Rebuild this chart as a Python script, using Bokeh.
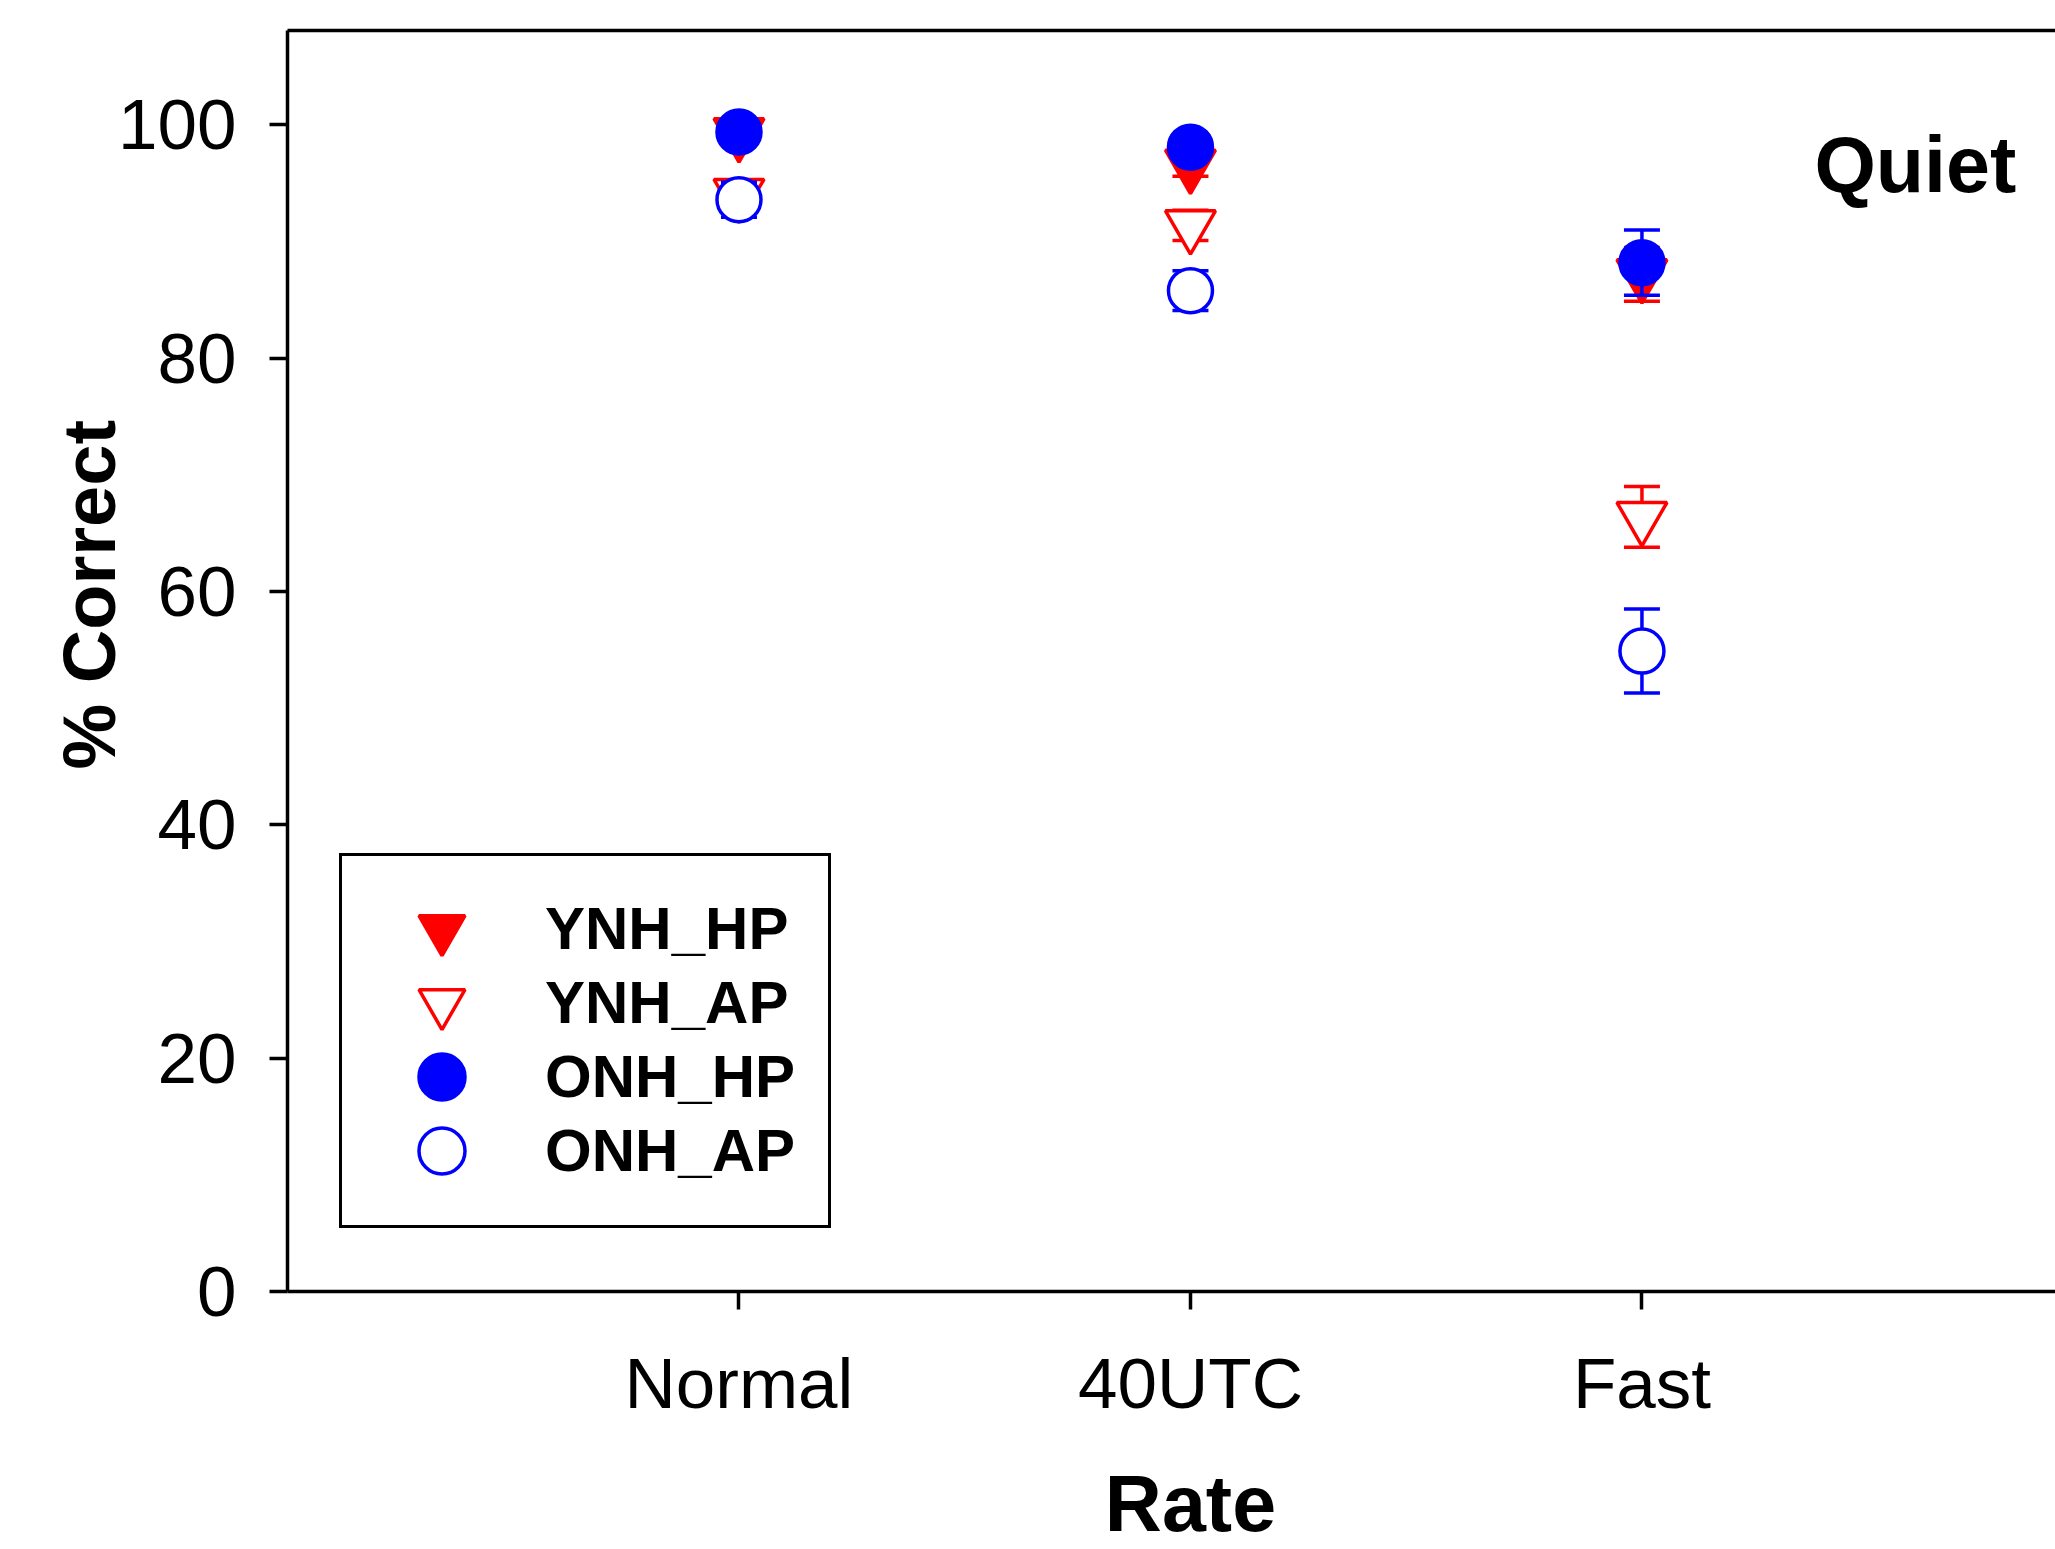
from bokeh.plotting import figure
from bokeh.layouts import column
from bokeh.models import (Range1d, FixedTicker, LinearAxis, Label, Legend, LegendItem,
                          ColumnDataSource, Title)
from bokeh.embed import file_html
from bokeh.resources import INLINE

# ---- data ----
categories = ["Normal", "40UTC", "Fast"]
series_names = ["YNH_HP", "YNH_AP", "ONH_HP", "ONH_AP"]
ynh_hp = [99.3, 96.6, 87.2]
ynh_hp_err = [0.6, 1.0, 2.3]
ynh_ap = [94.1, 91.4, 66.4]
ynh_ap_err = [1.2, 1.3, 2.6]
onh_hp = [99.4, 98.1, 88.2]
onh_hp_err = [0.5, 0.8, 2.8]
onh_ap = [93.6, 85.8, 54.9]
onh_ap_err = [1.5, 1.7, 3.6]
y_ticks = [0, 20, 40, 60, 80, 100]
panel_title = "Quiet"
x_title = "Rate"
y_title = "% Correct"

FONT = "Liberation Sans"
RED = "#FF0000"
BLUE = "#0000FF"

xpos = list(range(1, len(categories) + 1))

p = figure(width=2055, height=1460, output_backend="svg", toolbar_location=None,
           x_range=Range1d(0, 3.916), y_range=Range1d(0, 108.1),
           min_border_left=287, min_border_right=0, min_border_top=30,
           min_border_bottom=169)
p.outline_line_color = None
p.grid.visible = False
p.background_fill_color = "white"
p.border_fill_color = "white"

# axes
for ax in (p.xaxis[0], p.yaxis[0]):
    ax.axis_line_width = 3.5
    ax.axis_line_color = "black"
    ax.major_tick_line_width = 3.5
    ax.major_tick_line_color = "black"
    ax.major_tick_in = 0
    ax.major_tick_out = 18
    ax.minor_tick_line_color = None
    ax.major_label_text_font = FONT
    ax.major_label_text_font_size = "71px"
    ax.major_label_text_color = "black"

p.xaxis[0].ticker = FixedTicker(ticks=xpos)
p.xaxis[0].major_label_overrides = {x: c for x, c in zip(xpos, categories)}
p.xaxis[0].major_label_standoff = 34
p.yaxis[0].ticker = FixedTicker(ticks=y_ticks)
p.yaxis[0].major_label_standoff = 33

top_axis = LinearAxis(ticker=FixedTicker(ticks=[]), axis_line_width=3.5,
                      axis_line_color="black", major_tick_out=0, major_tick_in=0,
                      minor_tick_out=0, minor_tick_in=0,
                      major_label_text_font_size="0px", major_label_standoff=0)
p.add_layout(top_axis, "above")

# y axis title
p.add_layout(Title(text=y_title, align="left", offset=522, vertical_align="middle",
                   standoff=-33, text_font=FONT, text_font_style="bold",
                   text_font_size="74px", text_color="black"), "left")

# series
specs = [
    (ynh_hp, ynh_hp_err, RED, "inverted_triangle", RED, 50),
    (ynh_ap, ynh_ap_err, RED, "inverted_triangle", "white", 50),
    (onh_hp, onh_hp_err, BLUE, "circle", BLUE, 44),
    (onh_ap, onh_ap_err, BLUE, "circle", "white", 44),
]
items = {}
for name, (vals, errs, col, marker, fill, size) in zip(series_names, specs):
    src = ColumnDataSource(dict(
        x=xpos, y=vals,
        lo=[v - e for v, e in zip(vals, errs)],
        hi=[v + e for v, e in zip(vals, errs)],
    ))
    p.segment(x0="x", y0="lo", x1="x", y1="hi", source=src, line_color=col, line_width=3.5)
    p.scatter(x="x", y="hi", source=src, marker="dash", size=36, line_color=col, line_width=3.5)
    p.scatter(x="x", y="lo", source=src, marker="dash", size=36, line_color=col, line_width=3.5)
    r = p.scatter(x="x", y="y", source=src, marker=marker, size=size,
                  line_color=col, fill_color=fill, line_width=3.5)
    items[name] = LegendItem(label=name, renderers=[r])

# legend frame (box only)
dummy = p.scatter(x=[], y=[], marker="circle", size=1, fill_alpha=0, line_alpha=0)
legend_box = Legend(items=[LegendItem(label=" ", renderers=[dummy])],
                    location=(52, 63), margin=0, padding=0, spacing=0,
                    glyph_width=466, glyph_height=369, label_standoff=0, label_width=20,
                    label_height=20, label_text_font_size="10px",
                    border_line_color="black", border_line_width=3, border_line_alpha=1.0,
                    background_fill_color="white", background_fill_alpha=1.0)
p.add_layout(legend_box, "center")

# legend entries, interleaved in two transparent legends so markers stay large
leg_common = dict(margin=0, padding=0, spacing=33, glyph_width=115, glyph_height=115,
                  label_standoff=46, label_height=115,
                  label_text_font=FONT, label_text_font_style="bold",
                  label_text_font_size="60px", label_text_color="black",
                  border_line_color=None, background_fill_alpha=0.0)
leg_a = Legend(items=[items["YNH_HP"], items["ONH_HP"]], location=(97, 157), **leg_common)
leg_b = Legend(items=[items["YNH_AP"], items["ONH_AP"]], location=(97, 83), **leg_common)
p.add_layout(leg_a, "center")
p.add_layout(leg_b, "center")

# panel label
p.add_layout(Label(x=3.382, y=96.6, text=panel_title, text_font=FONT,
                   text_font_style="bold", text_font_size="79px",
                   text_align="left", text_baseline="alphabetic", text_color="black"))

# strip below the chart that carries the x axis title
p2 = figure(width=2055, height=89, output_backend="svg", toolbar_location=None,
            x_range=p.x_range, y_range=Range1d(0, 89),
            x_axis_location=None, y_axis_location=None,
            min_border_left=287, min_border_right=0, min_border_top=0,
            min_border_bottom=0)
p2.outline_line_color = None
p2.grid.visible = False
p2.background_fill_color = "white"
p2.border_fill_color = "white"
p2.add_layout(Label(x=2, y=46, text=x_title, text_font=FONT,
                    text_font_style="bold", text_font_size="79px",
                    text_align="center", text_baseline="alphabetic", text_color="black"))

layout = column(p, p2, spacing=0)
open("out.html", "w").write(file_html(layout, INLINE))
